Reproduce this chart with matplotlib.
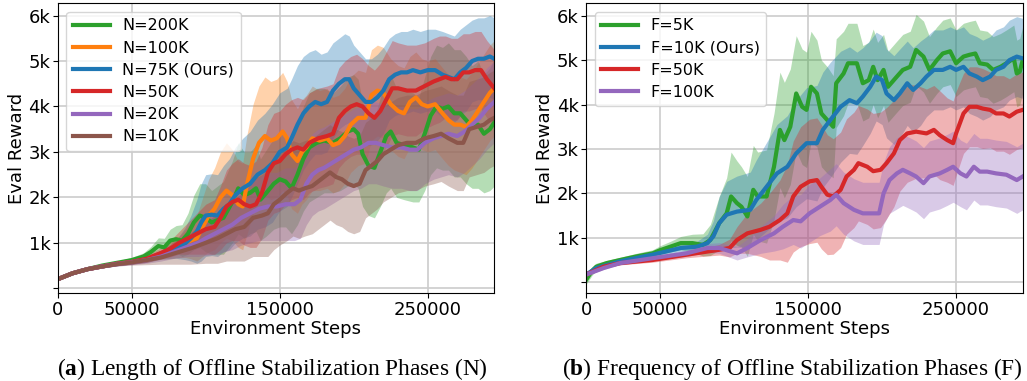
import matplotlib
matplotlib.use("Agg")
import matplotlib.pyplot as plt
import numpy as np

plt.rcParams['font.family'] = ['DejaVu Sans']
plt.rcParams['mathtext.fontset'] = 'custom'
plt.rcParams['mathtext.rm'] = 'Liberation Serif'
plt.rcParams['mathtext.bf'] = 'Liberation Serif:bold'

# (environment steps in thousands, eval reward in thousands, band half-width in thousands)
GREEN_N = [(0,.2,.03),(10,.33,.03),(20,.42,.03),(30,.5,.03),(40,.56,.04),(50,.62,.06),(58,.7,.08),(63,.8,.12),(68,.93,.18),(72,.9,.2),(76,1.05,.25),(80,1.08,.3),(84,1.05,.35),(88,1.2,.45),(92,1.45,.6),(96,1.6,.7),(100,1.55,.75),(104,1.45,.7),(108,1.5,.75),(112,1.55,.8),(118,1.9,.9),(122,2.2,1.0),(126,2.05,.95),(130,2.1,.9),(134,2.2,.95),(137,1.95,.9),(141,2.1,.95),(146,2.3,1.0),(150,2.4,1.05),(154,2.35,1.0),(158,2.2,1.0),(162,2.5,1.1),(166,2.85,1.15),(170,3.1,1.2),(175,3.2,1.2),(180,3.25,1.15),(186,3.2,1.1),(191,3.3,1.15),(196,3.45,1.2),(200,3.5,1.2),(203,3.4,1.2),(206,2.95,1.15),(210,2.7,1.1),(214,2.65,1.1),(218,3.0,1.2),(222,3.35,1.25),(225,3.45,1.25),(229,3.2,1.2),(234,3.15,1.2),(240,3.1,1.2),(244,3.05,1.15),(248,3.4,1.25),(252,3.8,1.3),(256,4.0,1.35),(260,3.95,1.35),(264,4.0,1.4),(268,3.85,1.4),(272,3.85,1.4),(276,3.7,1.4),(280,3.55,1.35),(284,3.6,1.4),(288,3.4,1.3),(292,3.5,1.35),(295,3.65,1.4)]
ORANGE_N = [(0,.2,.03),(10,.33,.03),(20,.42,.03),(30,.48,.03),(40,.54,.04),(50,.58,.05),(60,.64,.07),(70,.74,.1),(80,.87,.2),(86,.98,.3),(90,1.05,.4),(94,1.1,.5),(98,1.35,.65),(102,1.6,.8),(106,1.75,.9),(110,2.0,1.0),(114,2.15,1.05),(118,2.05,1.0),(122,1.85,.95),(125,1.8,.95),(128,2.3,1.1),(132,2.85,1.2),(136,3.2,1.25),(140,3.35,1.3),(144,3.25,1.3),(148,3.3,1.3),(152,3.45,1.3),(155,3.3,1.25),(158,2.95,1.2),(162,2.8,1.15),(165,3.0,1.15),(168,3.1,1.15),(172,3.3,1.15),(177,3.25,1.1),(182,3.3,1.1),(186,3.15,1.05),(190,3.2,1.05),(194,3.35,1.05),(198,3.6,1.05),(203,3.75,1.05),(208,3.75,1.0),(212,4.25,1.0),(216,4.35,1.0),(220,4.3,1.0),(225,4.05,1.0),(230,3.9,1.0),(234,3.85,1.0),(238,4.1,1.0),(242,4.2,1.0),(246,4.05,1.0),(250,4.0,1.0),(255,4.05,1.0),(260,3.85,1.0),(264,3.7,1.0),(268,3.6,1.0),(272,3.6,1.05),(276,3.55,1.05),(280,3.7,1.05),(284,3.9,1.05),(288,4.1,1.05),(292,4.3,1.05),(295,4.4,1.05)]
BLUE_N = [(0,.2,.03),(10,.33,.03),(20,.42,.03),(30,.48,.03),(40,.54,.04),(50,.58,.05),(60,.64,.07),(70,.74,.1),(80,.86,.2),(86,.98,.35),(90,1.1,.5),(94,1.25,.7),(97,1.45,.85),(100,1.6,.9),(104,1.62,.9),(108,1.6,.9),(112,1.75,.95),(116,1.85,1.0),(120,2.05,1.05),(125,2.2,1.1),(130,2.3,1.15),(135,2.5,1.2),(140,2.6,1.25),(145,2.75,1.3),(150,3.0,1.3),(155,3.1,1.3),(158,3.3,1.3),(162,3.6,1.3),(166,3.85,1.25),(170,4.0,1.2),(174,4.1,1.15),(178,4.05,1.1),(182,4.1,1.1),(186,4.35,1.05),(190,4.5,1.0),(194,4.6,1.0),(197,4.6,.95),(200,4.4,.95),(204,4.25,.95),(208,4.1,.95),(212,4.1,.95),(216,4.2,.95),(220,4.35,.95),(224,4.6,.9),(228,4.7,.9),(232,4.75,.9),(236,4.75,.9),(240,4.8,.9),(245,4.75,.9),(250,4.8,.9),(255,4.8,.9),(260,4.7,.95),(264,4.65,.95),(268,4.6,.95),(272,4.75,.95),(276,4.85,.95),(280,5.0,.9),(284,5.05,.9),(288,5.05,.9),(292,5.1,.9),(295,5.05,.9)]
RED_N = [(0,.2,.03),(10,.33,.03),(20,.42,.03),(30,.48,.03),(40,.54,.04),(50,.58,.05),(60,.65,.08),(70,.78,.12),(76,.87,.18),(82,1.0,.25),(88,1.1,.35),(94,1.2,.45),(100,1.3,.55),(106,1.35,.6),(110,1.55,.7),(114,1.8,.8),(118,1.9,.85),(122,1.95,.9),(126,1.85,.9),(130,1.8,.9),(134,1.85,.95),(138,2.1,1.0),(142,2.55,1.05),(146,2.75,1.1),(150,2.8,1.1),(154,2.95,1.1),(158,3.05,1.1),(162,3.1,1.1),(166,3.05,1.1),(170,3.2,1.1),(176,3.3,1.1),(182,3.35,1.1),(186,3.4,1.1),(190,3.75,1.1),(194,3.9,1.1),(198,4.0,1.1),(202,4.05,1.1),(206,4.0,1.05),(210,3.85,1.05),(214,3.75,1.05),(218,3.9,1.05),(222,4.15,1.05),(226,4.4,1.05),(230,4.4,1.0),(236,4.35,1.0),(242,4.35,1.0),(248,4.45,.95),(254,4.55,.95),(258,4.6,.95),(262,4.65,.9),(266,4.6,.9),(270,4.6,.9),(274,4.75,.85),(278,4.75,.85),(282,4.8,.85),(286,4.8,.85),(290,4.6,.85),(295,4.4,.85)]
PURPLE_N = [(0,.2,.03),(10,.33,.03),(20,.42,.03),(30,.48,.03),(40,.53,.04),(50,.57,.05),(60,.62,.07),(70,.7,.1),(80,.82,.15),(88,.92,.22),(95,1.0,.3),(100,1.1,.38),(106,1.2,.45),(112,1.3,.5),(118,1.4,.55),(124,1.55,.6),(130,1.65,.65),(136,1.75,.7),(142,1.8,.75),(148,1.8,.75),(154,1.85,.8),(160,1.85,.8),(164,1.95,.85),(168,2.3,.9),(172,2.5,.9),(176,2.6,.9),(180,2.65,.9),(185,2.75,.9),(190,2.85,.9),(195,2.95,.9),(200,3.05,.9),(205,3.1,.9),(210,3.2,.9),(215,3.2,.9),(220,3.15,.9),(226,3.1,.9),(232,3.1,.9),(238,3.05,.9),(243,3.05,.9),(248,3.2,.9),(254,3.3,.9),(259,3.35,.9),(264,3.4,.9),(270,3.35,.9),(275,3.45,.9),(280,3.6,.9),(285,3.75,.9),(290,3.95,.9),(295,4.1,.9)]
BROWN_N = [(0,.2,.03),(10,.33,.03),(20,.42,.03),(30,.48,.03),(40,.53,.04),(50,.57,.06),(60,.62,.1),(70,.68,.15),(80,.78,.25),(90,.88,.35),(100,1.0,.45),(108,1.1,.55),(114,1.2,.6),(120,1.3,.7),(126,1.35,.75),(132,1.55,.85),(138,1.6,.9),(142,1.65,.95),(146,1.85,1.0),(150,1.95,1.0),(155,2.1,1.05),(159,2.2,1.05),(163,2.15,1.05),(167,2.2,1.05),(172,2.25,1.05),(176,2.35,1.05),(180,2.45,1.05),(184,2.55,1.05),(188,2.45,1.05),(192,2.4,1.05),(196,2.3,1.05),(200,2.25,1.05),(204,2.3,1.05),(208,2.6,1.05),(212,2.7,1.05),(216,2.8,1.05),(220,2.95,1.05),(225,3.05,1.05),(230,3.15,1.05),(236,3.2,1.05),(242,3.2,1.05),(248,3.3,1.05),(254,3.35,1.05),(259,3.4,1.05),(264,3.3,1.05),(270,3.2,1.05),(274,3.2,1.05),(278,3.5,1.05),(283,3.55,1.05),(288,3.6,1.05),(292,3.7,1.05),(295,3.75,1.05)]

GREEN_F = [(0,.05,.1),(4,.25,.1),(7,.35,.08),(14,.43,.06),(23,.5,.06),(34,.58,.07),(45,.65,.08),(50,.72,.1),(57,.8,.12),(64,.88,.15),(72,.88,.2),(79,.84,.25),(84,.95,.35),(90,1.33,.6),(95,1.55,.8),(98,1.93,1.0),(102,1.78,.95),(105,1.7,.9),(109,1.48,.9),(113,2.08,1.0),(116,1.93,1.0),(122,1.93,1.05),(127,2.6,1.2),(131,3.43,1.3),(134,3.2,1.3),(138,3.5,1.3),(142,4.25,1.3),(146,3.95,1.3),(149,3.88,1.3),(152,4.4,1.25),(156,4.25,1.2),(159,3.8,1.2),(163,3.65,1.2),(167,3.5,1.15),(169,4.48,1.0),(174,4.7,.95),(177,4.93,.9),(183,4.93,.9),(187,4.48,.85),(191,4.55,.85),(194,4.85,.85),(197,4.55,.85),(201,4.78,.8),(204,4.4,.8),(210,4.63,.8),(214,4.78,.8),(219,4.85,.8),(223,5.23,.8),(228,5.08,.8),(232,4.78,.75),(237,5.0,.75),(241,5.15,.75),(246,5.2,.75),(250,4.93,.75),(255,5.08,.75),(259,5.12,.75),(263,5.15,.75),(266,4.93,.75),(271,4.9,.75),(275,4.78,.75),(280,4.85,.75),(284,4.93,.75),(289,5.04,.75),(291,4.7,.75),(293,4.74,.75),(295,5.0,.75)]
BLUE_F = [(0,.17,.03),(7,.32,.03),(23,.47,.04),(45,.62,.05),(64,.77,.08),(75,.8,.12),(82,.88,.2),(86,1.03,.35),(90,1.33,.6),(95,1.52,.75),(102,1.59,.8),(111,1.63,.85),(115,1.85,.9),(122,2.15,1.0),(129,2.45,1.1),(136,2.6,1.15),(142,2.9,1.2),(149,3.13,1.25),(156,3.13,1.3),(160,3.43,1.3),(165,3.65,1.3),(172,3.95,1.25),(178,4.1,1.2),(183,4.03,1.15),(187,4.18,1.1),(192,4.4,1.05),(196,4.63,1.0),(200,4.55,1.0),(203,4.25,1.0),(208,4.1,1.0),(212,4.25,1.0),(217,4.48,.95),(221,4.33,.95),(226,4.48,.95),(230,4.63,.9),(235,4.78,.9),(241,4.78,.9),(246,4.85,.9),(250,4.78,.9),(255,4.85,.9),(259,4.7,.9),(264,4.63,.9),(268,4.55,.9),(273,4.63,.9),(277,4.78,.9),(282,4.85,.9),(286,5.0,.9),(291,5.08,.9),(295,5.04,.9)]
RED_F = [(0,.17,.03),(12,.35,.03),(23,.43,.04),(45,.5,.05),(68,.62,.07),(82,.69,.1),(90,.73,.12),(97,.77,.2),(102,.95,.3),(109,1.1,.45),(118,1.18,.6),(124,1.25,.75),(131,1.4,.9),(136,1.55,1.1),(140,1.93,1.25),(145,2.15,1.35),(151,2.27,1.4),(156,2.3,1.4),(159,2.15,1.4),(163,1.97,1.35),(167,1.93,1.3),(172,2.08,1.3),(176,2.38,1.3),(181,2.53,1.3),(184,2.68,1.3),(190,2.6,1.3),(194,2.5,1.3),(199,2.53,1.3),(203,2.68,1.25),(208,2.9,1.2),(212,3.2,1.15),(217,3.35,1.1),(223,3.39,1.05),(230,3.35,1.0),(235,3.43,1.0),(239,3.31,1.0),(244,3.2,.95),(248,3.13,.95),(250,3.35,.95),(255,3.8,.9),(259,3.95,.9),(264,3.95,.9),(268,3.91,.9),(273,3.88,.85),(277,3.8,.85),(282,3.8,.85),(286,3.73,.85),(291,3.84,.85),(295,3.88,.85)]
PURPLE_F = [(0,.17,.03),(12,.32,.03),(23,.43,.04),(45,.54,.05),(68,.65,.07),(82,.77,.1),(90,.77,.12),(102,.65,.15),(109,.77,.2),(118,.95,.3),(127,1.1,.4),(133,1.25,.5),(140,1.4,.55),(145,1.37,.6),(151,1.55,.65),(158,1.7,.65),(165,1.85,.7),(169,1.97,.7),(174,1.78,.7),(181,1.63,.7),(187,1.55,.7),(194,1.55,.7),(198,1.55,.7),(201,2.0,.7),(205,2.3,.75),(210,2.45,.8),(214,2.53,.8),(219,2.45,.8),(223,2.38,.8),(228,2.23,.8),(232,2.38,.8),(239,2.45,.8),(244,2.53,.8),(248,2.6,.8),(253,2.45,.75),(257,2.38,.75),(262,2.6,.75),(266,2.49,.75),(271,2.49,.75),(277,2.45,.75),(284,2.42,.75),(291,2.3,.75),(295,2.38,.75)]

LABELS_N = ["N=200K", "N=100K", "N=75K (Ours)", "N=50K", "N=20K", "N=10K"]
LABELS_F = ["F=5K", "F=10K (Ours)", "F=50K", "F=100K"]
XTICKS = [0, 50000, 150000, 250000]
YTICKS = [0, 1000, 2000, 3000, 4000, 5000, 6000]
YTICKLABELS = ["", "1k", "2k", "3k", "4k", "5k", "6k"]
CAPTIONS = [r"($\mathbf{a}$) Length of Offline Stabilization Phases (N)",
            r"($\mathbf{b}$) Frequency of Offline Stabilization Phases (F)"]

C_GREEN, C_ORANGE, C_BLUE, C_RED, C_PURPLE, C_BROWN = "#2ca02c", "#ff7f0e", "#1f77b4", "#d62728", "#9467bd", "#8c564b"

panels = [
    ([GREEN_N, ORANGE_N, BLUE_N, RED_N, PURPLE_N, BROWN_N], LABELS_N,
     [C_GREEN, C_ORANGE, C_BLUE, C_RED, C_PURPLE, C_BROWN], (-110, 6270)),
    ([GREEN_F, BLUE_F, RED_F, PURPLE_F], LABELS_F,
     [C_GREEN, C_BLUE, C_RED, C_PURPLE], (-250, 6280)),
]

fig = plt.figure(figsize=(10.27, 3.81), dpi=100)
axpos = [(57.7, 494.3), (586.0, 1022.7)]
W, H = 1027.0, 381.0
captions_x = [272.5, 792.0]

for i, (series, labels, colors, ylim) in enumerate(panels):
    x0, x1 = axpos[i]
    ax = fig.add_axes([x0 / W, 1 - 293.3 / H, (x1 - x0) / W, 290.0 / H])
    for s, c in zip(series, colors):
        arr = np.array(s)
        xs, ys, sd = arr[:, 0] * 1000, arr[:, 1] * 1000, arr[:, 2] * 1000
        ax.fill_between(xs, ys - sd, ys + sd, color=c, alpha=0.35, linewidth=0)
    for s, c, lab in zip(series, colors, labels):
        arr = np.array(s)
        ax.plot(arr[:, 0] * 1000, arr[:, 1] * 1000, color=c, lw=3, label=lab)
    ax.set_xlim(0, 295000)
    ax.set_ylim(*ylim)
    ax.set_xticks(XTICKS)
    ax.set_xticklabels([str(t) for t in XTICKS])
    ax.set_yticks(YTICKS)
    ax.set_yticklabels(YTICKLABELS)
    ax.tick_params(labelsize=13, length=3.5, pad=1.8)
    ax.grid(True, color="#cccccc", lw=1.2)
    ax.set_axisbelow(True)
    ax.set_xlabel("Environment Steps", fontsize=13, labelpad=1.2)
    ax.set_ylabel("Eval Reward", fontsize=13, labelpad=2)
    ax.legend(loc="upper left", fontsize=11.5, handlelength=2.3, labelspacing=0.45,
              borderpad=0.4, borderaxespad=0.55, framealpha=0.8)
    fig.text(captions_x[i] / W, 1 - 375 / H, CAPTIONS[i], ha="center", va="baseline",
             fontsize=16.8, family="Liberation Serif")

fig.savefig("out.png", dpi=100)
